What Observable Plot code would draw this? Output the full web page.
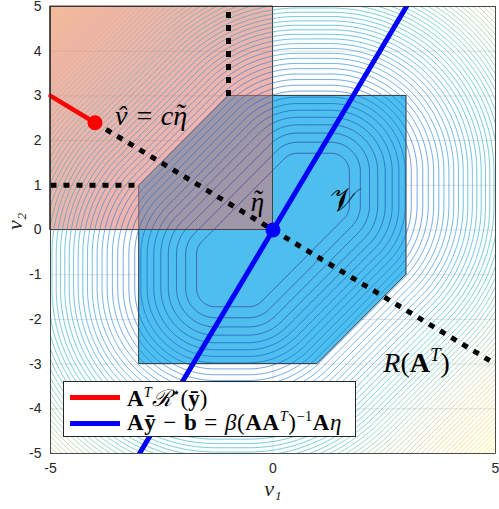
<!DOCTYPE html>
<html><head><meta charset="utf-8">
<script src="https://cdn.jsdelivr.net/npm/d3@7"></script>
<script src="https://cdn.jsdelivr.net/npm/@observablehq/plot@0.6"></script>
<style>
body{margin:0;background:#fff;}
#wrap{position:relative;width:499px;height:509px;overflow:hidden}
#legend{position:absolute;left:63px;top:381px;width:293px;height:56px;border:1px solid #262626;background:#fff;box-sizing:border-box;font-family:"Liberation Serif","DejaVu Serif",serif;font-size:23px;color:#000}
.row{position:absolute;left:0;height:26px;display:flex;align-items:center;white-space:nowrap}
.sw{display:inline-block;width:50px;height:5px;margin-left:6px;margin-right:7px}
.op{display:inline-block;margin:0 7px}
.wide{letter-spacing:0.6px}
sup{font-size:0.62em;vertical-align:0.6em;line-height:0}
</style></head><body><div id="wrap"></div>
<script>
// ticks
const xTicks = [-5, 0, 5];
const yTicks = [-5, -4, -3, -2, -1, 0, 1, 2, 3, 4, 5];
// feasible polygon V (as lower/upper boundary)
const vX = [-3, -1, 1, 3];
const vLow = [-3, -3, -3, -1];
const vHigh = [1, 3, 3, 3];
// shaded quadrant
const qX = [-5, 0];
const qLow = [0, 0];
const qHigh = [5, 5];
// red line A^T R*(y)
const redX = [-5, -4];
const redY = [3, 2.4];
// blue line
const blueX = [-3, 3];
const blueY = [-5, 5];
// dotted lines
const dotVertX = [-1, -1], dotVertY = [3, 5];
const dotHorX = [-5, -3], dotHorY = [1, 1];
const dotRangeX = [-4, 5], dotRangeY = [2.4, -3];
// points
const ptX = [-4, 0], ptY = [2.4, 0], ptColor = ["#ff0000", "#0000ff"];
// annotations
const annText = ["ν̂ = cη̃", "η̃"];
const annX = [-3.55, -0.5];
const annY = [2.55, 0.62];
const annSize = [28, 27];
const setLabel = ["𝒱"], setLabelX = [1.28], setLabelY = [0.66];
const rangeLabelX = [2.48], rangeLabelY = [-2.98];
// core set of the contour field (vertices)
const coreX = [0.55, 1.3, 1.3, -0.55, -1.3, -1.3];
const coreY = [1.3, 1.3, 0.55, -1.3, -1.3, -0.55];
const fieldPower = 1.5;
const levelStep = 0.27;

function segDist(px, py, ax, ay, bx, by) {
  const dx = bx - ax, dy = by - ay;
  let t = ((px - ax) * dx + (py - ay) * dy) / (dx * dx + dy * dy);
  t = Math.max(0, Math.min(1, t));
  const ex = ax + t * dx - px, ey = ay + t * dy - py;
  return Math.hypot(ex, ey);
}
function field(x, y) {
  const n = coreX.length;
  let inside = true, dmin = Infinity;
  for (let i = 0; i < n; i++) {
    const j = (i + 1) % n;
    const cr = (coreX[j] - coreX[i]) * (y - coreY[i]) - (coreY[j] - coreY[i]) * (x - coreX[i]);
    if (cr > 0) inside = false;
    dmin = Math.min(dmin, segDist(x, y, coreX[i], coreY[i], coreX[j], coreY[j]));
  }
  return inside ? 0 : Math.pow(dmin, fieldPower);
}
const fmax = Math.max(field(-5, 5), field(5, 5), field(-5, -5), field(5, -5));
const levels = d3.range(levelStep, fmax, levelStep);
const parula = d3.interpolateRgbBasis(["#352a87","#0363e1","#1485d4","#06a7c6","#38b99e","#92bf73","#d9ba56","#fcce2e","#f9fb0e"]);

const idx2 = [0, 1];
const serif = "Liberation Serif, DejaVu Serif, serif";
const dotted = {stroke: "#000", strokeWidth: 5, strokeDasharray: "6,7", strokeLinecap: "butt"};

const plot = Plot.plot({
  width: 499, height: 509,
  marginLeft: 50, marginRight: 4, marginTop: 6, marginBottom: 56,
  x: {domain: [-5, 5], ticks: xTicks, tickSize: 0, tickPadding: 10, label: null, tickFormat: d => String(d)},
  y: {domain: [-5, 5], ticks: yTicks, tickSize: 0, tickPadding: 9, label: null, tickFormat: d => String(d)},
  color: {type: "linear", domain: [levels[0], fmax], interpolate: parula},
  style: {fontFamily: "Liberation Sans, Arial, sans-serif", fontSize: "14px", color: "#262626", background: "white"},
  marks: [
    Plot.gridX(xTicks, {stroke: "#e2e2e2", strokeOpacity: 1}),
    Plot.gridY(yTicks, {stroke: "#e2e2e2", strokeOpacity: 1}),
    Plot.areaY(vX, {x: vX, y1: vLow, y2: vHigh, fill: "#4DBEEE", stroke: "#333", strokeWidth: 1}),
    Plot.areaY(qX, {x: qX, y1: qLow, y2: qHigh, fill: "#e3766d", fillOpacity: 0.55, stroke: "#444", strokeWidth: 1}),
    Plot.contour({x1: -5.4, y1: -5.4, x2: 5.4, y2: 5.4, value: field, thresholds: levels, stroke: "value", fill: "none", strokeWidth: 0.6, clip: true, pixelSize: 1.5}),
    Plot.line(idx2, {x: dotVertX, y: dotVertY, ...dotted}),
    Plot.line(idx2, {x: dotHorX, y: dotHorY, ...dotted}),
    Plot.line(idx2, {x: dotRangeX, y: dotRangeY, ...dotted}),
    Plot.line(idx2, {x: redX, y: redY, stroke: "#ff0000", strokeWidth: 4.5}),
    Plot.line(idx2, {x: blueX, y: blueY, stroke: "#0000ff", strokeWidth: 5, clip: true}),
    Plot.dot(idx2, {x: ptX, y: ptY, fill: ptColor, r: 7.5}),
    Plot.text(annText, {x: annX, y: annY, text: annText, fontSize: annSize, fontFamily: serif, fontStyle: "italic", textAnchor: "start", fill: "#000"}),
    Plot.text(setLabel, {x: setLabelX, y: setLabelY, fontSize: 33, fontFamily: serif, textAnchor: "start", fill: "#000"}),
    Plot.text(["R(A^T)"], {x: rangeLabelX, y: rangeLabelY, fontSize: 28, fontFamily: serif, textAnchor: "start", fill: "#000"}),
    Plot.text(["ν₁"], {frameAnchor: "bottom", dy: 42, fontSize: 22, fontFamily: serif, fontStyle: "italic", fill: "#262626"}),
    Plot.text(["ν₂"], {frameAnchor: "left", dx: -36, rotate: -90, fontSize: 22, fontFamily: serif, fontStyle: "italic", fill: "#262626"}),
    Plot.frame({stroke: "#262626", strokeWidth: 0.8})
  ]
});
const richMarkup = {
  "R(A^T)": '<tspan font-style="italic">R</tspan>(<tspan font-weight="bold">A</tspan><tspan font-style="italic" font-size="19" dy="-11">T</tspan><tspan dy="11">)</tspan>',
  "ν̂ = cη̃": '<tspan>ν</tspan><tspan dx="-0.38em">ˆ</tspan><tspan dx="0.06em"> = cη</tspan><tspan dx="-0.43em" dy="-0.08em">˜</tspan>',
  "η̃": '<tspan>η</tspan><tspan dx="-0.43em" dy="-0.08em">˜</tspan>'
};
plot.querySelectorAll("text").forEach(t => {
  const k = t.textContent;
  if (richMarkup[k]) t.innerHTML = richMarkup[k];
});
const wrap = document.getElementById("wrap");
wrap.appendChild(plot);
const legend = document.createElement("div");
legend.id = "legend";
legend.innerHTML =
  '<div class="row" style="top:2px"><span class="sw" style="background:#ff0000"></span><span><b>A</b><sup><i>T</i></sup><i>ℛ</i><sup>⋆</sup>(<b>ȳ</b>)</span></div>' +
  '<div class="row" style="top:28px"><span class="sw" style="background:#0000ff"></span><span class="wide"><b>Aȳ</b><span class="op">−</span><b>b</b><span class="op">=</span><i>β</i>(<b>AA</b><sup><i>T</i></sup>)<sup>−1</sup><b>A</b><i>η</i></span></div>';
wrap.appendChild(legend);
</script></body></html>
